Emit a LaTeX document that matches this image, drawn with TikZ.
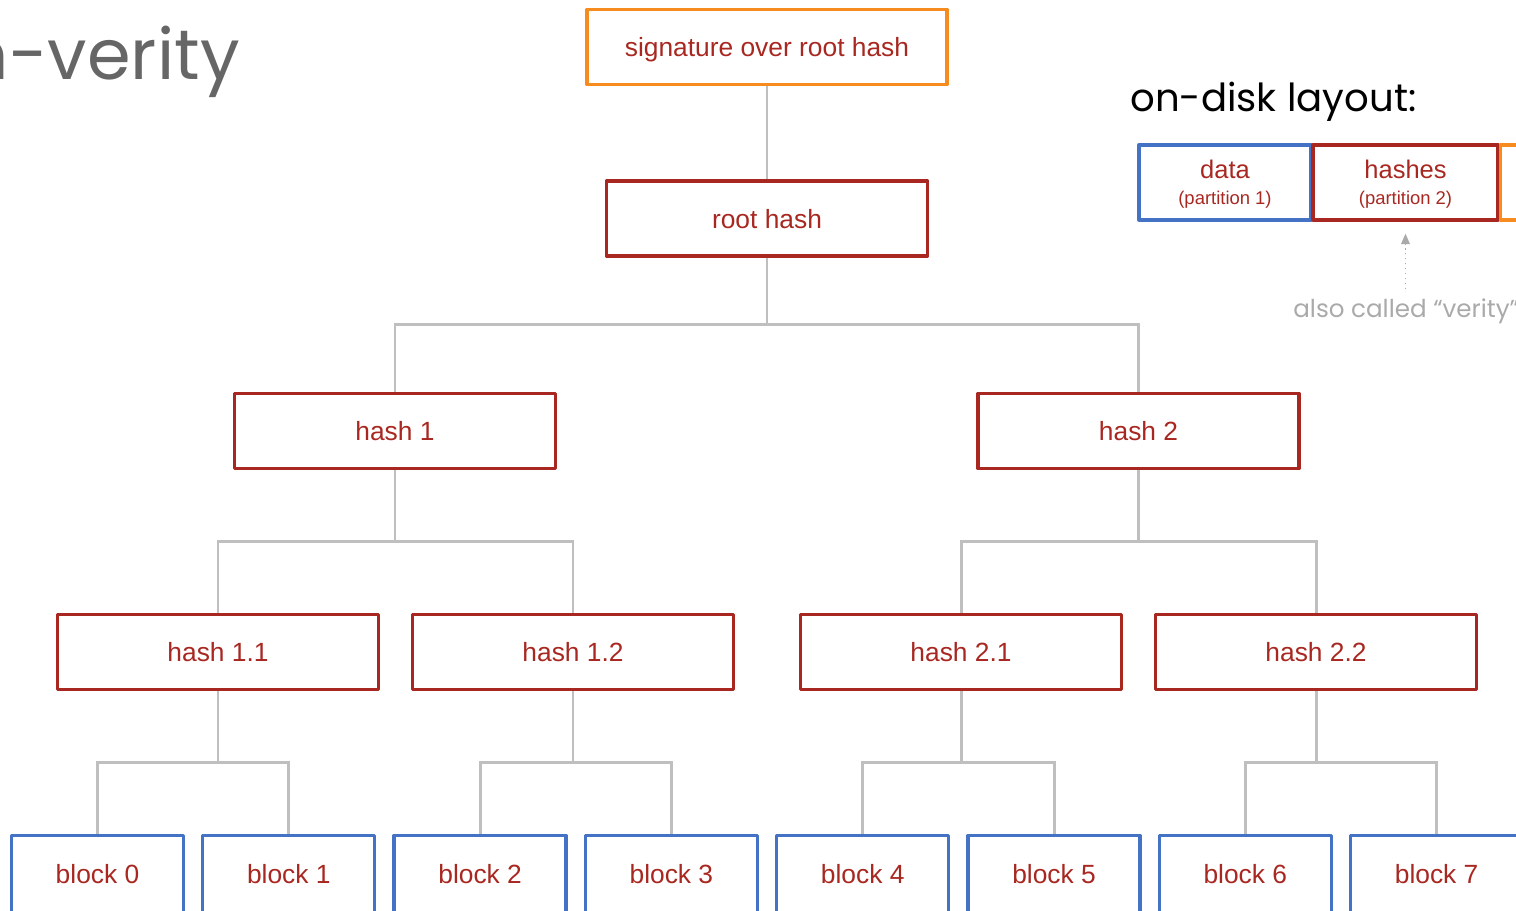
\documentclass[tikz,border=0pt]{standalone}
\usepackage{fontspec}
\setmainfont{Liberation Sans}
\newfontfamily\headfont{Poppins}
\usetikzlibrary{arrows.meta,calc,backgrounds}

\definecolor{boxred}{RGB}{168,40,33}
\definecolor{boxblue}{RGB}{68,114,196}
\definecolor{boxorange}{RGB}{246,139,31}
\definecolor{linkgray}{RGB}{191,191,191}
\definecolor{titlegray}{RGB}{102,102,102}
\definecolor{notegray}{RGB}{170,170,170}

\tikzset{
  box/.style={draw, line width=1.9pt, line join=round, minimum height=1.5cm, inner sep=0pt,
    text=boxred, font=\fontsize{15}{18}\selectfont},
  hashbox/.style={box, draw=boxred, minimum width=6.42cm, text depth=0pt},
  blockbox/.style={box, draw=boxblue, minimum width=3.44cm, minimum height=1.6cm, text depth=0.15em},
  diskbox/.style={box, align=center, font=\fontsize{14.5}{15}\selectfont, text depth=-2.5pt},
  link/.style={draw=linkgray, line width=1.7pt},
  tree edge/.style={to path={(\tikztostart) |- ($(\tikztostart)!0.5!(\tikztotarget)$) -| (\tikztotarget)}},
}

\begin{document}
\begin{tikzpicture}[x=0.02cm, y=-0.02cm]
    \useasboundingbox (0,0) rectangle (1516,911);
    \clip (0,0) rectangle (1516,911);

    % Title
    \node[font=\headfont\fontsize{40}{48}\selectfont, text=titlegray, anchor=base east, inner sep=0pt] (title) at (240,80) {dm-verity};

    % Signature and root
    \node[box, draw=boxorange, minimum width=7.2cm, text depth=0pt] (sig) at (767,47) {signature over root hash};
    \node[hashbox] (root) at (767,218.5) {root hash};

    % Hash levels
    \node[hashbox] (h1) at (395,431) {hash 1};
    \node[hashbox] (h2) at (1138.5,431) {hash 2};
    \node[hashbox] (h11) at (218,652) {hash 1.1};
    \node[hashbox] (h12) at (573,652) {hash 1.2};
    \node[hashbox] (h21) at (961,652) {hash 2.1};
    \node[hashbox] (h22) at (1316,652) {hash 2.2};

    % Data blocks
    \foreach \i in {0,...,7}
        \node[blockbox] (b\i) at ({97.5+191.3*\i},875.5) {block \i};

    % Tree links
    \begin{scope}[on background layer]
        \draw[link] (sig) -- (root);
        \foreach \p/\c in {root/h1, root/h2, h1/h11, h1/h12, h2/h21, h2/h22,
                           h11/b0, h11/b1, h12/b2, h12/b3, h21/b4, h21/b5, h22/b6, h22/b7}
            \draw[link] (\p.south) to[tree edge] (\c.north);
    \end{scope}

    % On-disk layout
    \node[font=\headfont\fontsize{22}{26}\selectfont, anchor=base west, inner sep=0pt] (layout) at (1130,112) {on-disk layout:};
    \node[diskbox, draw=boxblue, minimum width=3.44cm] (data) at (1225,182.5)
        {data\\[0pt]{\fontsize{10.5}{12}\selectfont (partition 1)}};
    \node[diskbox, draw=boxred, minimum width=3.7cm] (hashes) at (1405.5,182.5)
        {hashes\\[0pt]{\fontsize{10.5}{12}\selectfont (partition 2)}};
    \node[box, draw=boxorange, minimum width=4cm, anchor=west, outer sep=0pt] (sigpart) at (1500.5,182.5) {};

    % Note
    \node[font=\headfont\fontsize{14}{17}\selectfont, text=notegray, anchor=base west, inner sep=0pt] (also) at (1293,318) {also called “verity”};
    \draw[notegray, dotted, line width=0.8pt, -{Triangle[width=5pt,length=6pt]},
          shorten <=0.2cm, shorten >=0.24cm] (also.north -| hashes.south) -- (hashes.south);
\end{tikzpicture}
\end{document}
